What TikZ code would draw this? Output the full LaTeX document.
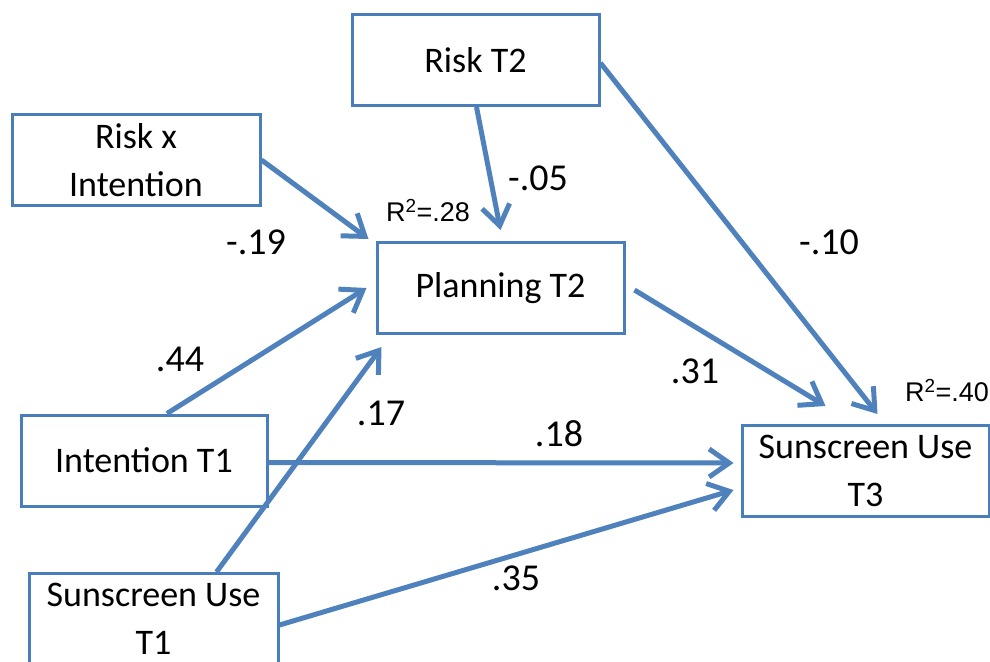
\documentclass[tikz,border=0pt]{standalone}
\usepackage{fontspec}
\setmainfont{Carlito}
\newfontfamily\arialfont{Liberation Sans}
\usetikzlibrary{arrows.meta,calc}
\definecolor{arrowblue}{HTML}{4F81BD}
\definecolor{boxblue}{HTML}{4A7EBB}
\begin{document}
\begin{tikzpicture}[x=1pt,y=-1pt,
  varbox/.style={draw=boxblue, line width=3pt, minimum width=#1, minimum height=91pt,
    inner sep=0pt, align=center, font=\fontsize{36}{48}\selectfont},
  varbox/.default=247pt,
  path/.style={draw=arrowblue, line width=5pt, -{Straight Barb[length=20pt,width=28pt]}},
  coef/.style={font=\fontsize{38}{44}\selectfont, inner sep=0pt},
  rsq/.style={font=\arialfont\fontsize{27}{32}\selectfont, inner sep=0pt}]
\useasboundingbox (0,0) rectangle (990,661);

% boxes
\node[varbox=247pt] (r2) at (475.5,60) {Risk T2};
\node[varbox=248pt] (rx) at (136,160) {Risk x\\Intention};
\node[varbox=247pt] (pl) at (500.5,288) {Planning T2};
\node[varbox=246pt] (i1) at (144,460.5) {Intention T1};
\node[varbox=249pt] (s1) at (153.5,619) {Sunscreen Use\\T1};
\node[varbox=247pt] (s3) at (865.5,471) {Sunscreen Use\\T3};

% paths
\draw[path] (rx.east) -- ($(pl.north west)+(-7,-2)$);
\draw[path] ($(r2.south)+(1,0)$) -- ($(pl.north)+(0,-11)$);
\draw[path] ($(r2.east)+(0,3)$) -- ($(s3.north)+(12,-10)$);
\draw[path] ($(pl.east)+(9,2)$) -- ($(s3.north)+(-40,-18)$);
\draw[path] ($(i1.north)+(23,0)$) -- ($(pl.west)+(-9,0)$);
\draw[path] ($(s1.north)+(63,0)$) -- ($(pl.south west)+(6,12)$);
\draw[path] ($(i1.east)+(0,2)$) -- ($(s3.west)+(-7,-8)$);
\draw[path] ($(s1.east)+(0,6)$) -- ($(s3.west)+(-7,19)$);

% coefficients
\node[coef] (c1) at (256,242) {-.19};
\node[coef] (c2) at (538,178) {-.05};
\node[coef] (c3) at (829,242) {-.10};
\node[coef] (c4) at (180,359) {.44};
\node[coef] (c5) at (381,413) {.17};
\node[coef] (c6) at (695,371) {.31};
\node[coef] (c7) at (559,434) {.18};
\node[coef] (c8) at (516,578) {.35};

% R squared
\node[rsq] (q1) at (428,211) {R\textsuperscript{2}=.28};
\node[rsq] (q2) at (947,391) {R\textsuperscript{2}=.40};
\end{tikzpicture}
\end{document}
